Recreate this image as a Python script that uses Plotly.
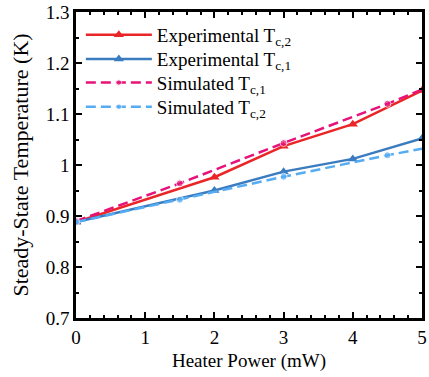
import plotly.graph_objects as go

# Data
exp_x = [0, 2, 3, 4, 5]
exp_tc2 = [0.888, 0.976, 1.037, 1.080, 1.146]
exp_tc1 = [0.888, 0.950, 0.987, 1.012, 1.052]

sim_x = [0, 1.5, 3, 4.5, 5]
sim_tc1 = [0.890, 0.964, 1.043, 1.120, 1.148]
sim_tc2 = [0.888, 0.932, 0.977, 1.019, 1.032]

x_ticks = [0, 1, 2, 3, 4, 5]
y_ticks = [0.7, 0.8, 0.9, 1.0, 1.1, 1.2, 1.3]
y_ticktext = ["0.7", "0.8", "0.9", "1", "1.1", "1.2", "1.3"]

RED = "#ea2527"
BLUE = "#3b7cc0"
PINK = "#e6127a"
LBLUE = "#55acf3"
FONT = "Liberation Serif"

fig = go.Figure()
fig.add_trace(go.Scatter(x=exp_x, y=exp_tc2, mode="lines+markers",
                         name="Experimental T<sub>c,2</sub>", legend="legend",
                         line=dict(color=RED, width=2.5),
                         marker=dict(symbol="triangle-up", size=9, color=RED)))
fig.add_trace(go.Scatter(x=exp_x, y=exp_tc1, mode="lines+markers",
                         name="Experimental T<sub>c,1</sub>", legend="legend2",
                         line=dict(color=BLUE, width=2.5),
                         marker=dict(symbol="triangle-up", size=9, color=BLUE)))
fig.add_trace(go.Scatter(x=sim_x, y=sim_tc1, mode="lines+markers",
                         name="Simulated T<sub>c,1</sub>", legend="legend3",
                         line=dict(color=PINK, width=2.5, dash="10px,5px"),
                         marker=dict(symbol="circle", size=[7, 7, 7, 7, 0], color=PINK)))
fig.add_trace(go.Scatter(x=sim_x, y=sim_tc2, mode="lines+markers",
                         name="Simulated T<sub>c,2</sub>", legend="legend4",
                         line=dict(color=LBLUE, width=2.5, dash="10px,5px"),
                         marker=dict(symbol="circle", size=[7, 7, 7, 7, 0], color=LBLUE)))

axis_common = dict(
    showline=True, linecolor="black", linewidth=2.5, mirror="ticks",
    ticks="inside", ticklen=6, tickwidth=2, tickcolor="black",
    showgrid=False, zeroline=False,
    tickfont=dict(family=FONT, size=19, color="black"),
)

fig.update_xaxes(
    range=[0, 5], tickvals=x_ticks,
    title=dict(text="Heater Power (mW)", font=dict(family=FONT, size=19, color="black"), standoff=8),
    minor=dict(dtick=0.2, ticks="inside", ticklen=3, tickwidth=1.5, tickcolor="black"),
    **axis_common,
)
fig.update_yaxes(
    range=[0.7, 1.3], tickvals=y_ticks, ticktext=y_ticktext,
    title=dict(text="Steady-State Temperature (K)", font=dict(family=FONT, size=22, color="black"), standoff=12),
    minor=dict(dtick=0.05, ticks="inside", ticklen=3, tickwidth=1.5, tickcolor="black"),
    **axis_common,
)

leg_common = dict(x=0.014, xanchor="left", yanchor="middle", bgcolor="rgba(0,0,0,0)",
                  font=dict(family=FONT, size=19, color="black"), itemwidth=66,
                  borderwidth=0)

fig.update_layout(
    width=429, height=377,
    margin=dict(l=76, r=2, t=11, b=59),
    paper_bgcolor="white", plot_bgcolor="white",
    font=dict(family=FONT, size=19, color="black"),
    legend=dict(y=0.925, **leg_common),
    legend2=dict(y=0.846, **leg_common),
    legend3=dict(y=0.769, **leg_common),
    legend4=dict(y=0.690, **leg_common),
    showlegend=True,
)

fig.write_html("out.html")
